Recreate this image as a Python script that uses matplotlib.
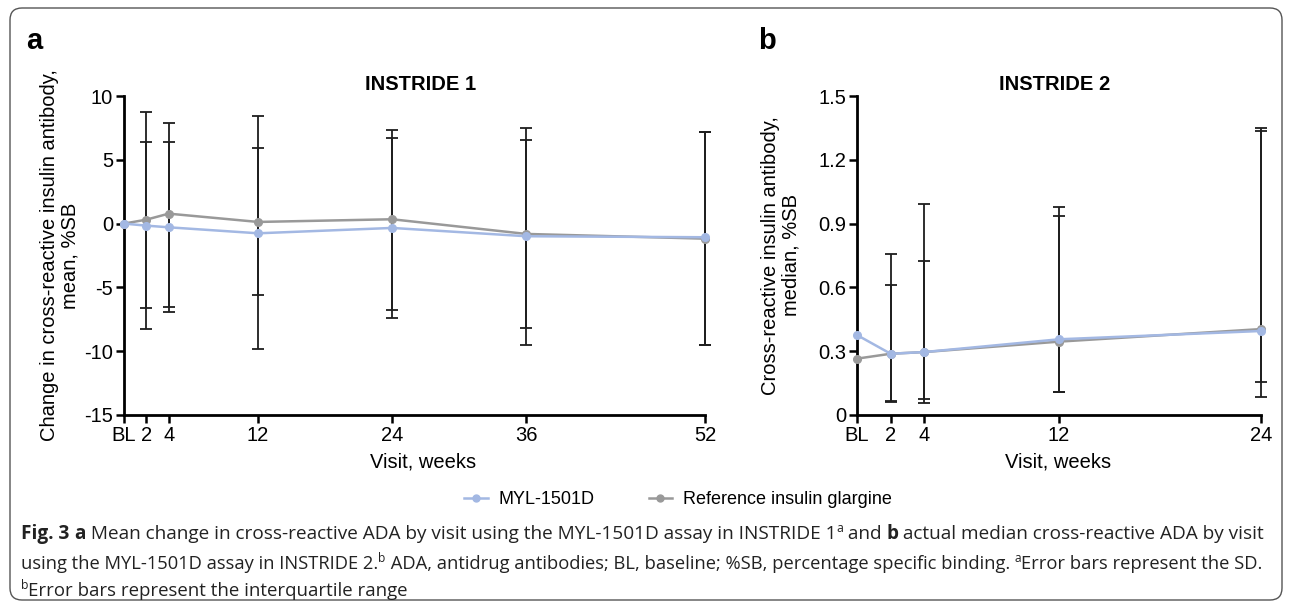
import matplotlib
matplotlib.use("Agg")
import numpy as np
import matplotlib.pyplot as plt
from matplotlib.patches import FancyBboxPatch
from matplotlib.lines import Line2D

# ---- data: INSTRIDE 1 (mean change, SD bars) ----
weeks1 = [0, 2, 4, 12, 24, 36, 52]
myl1 = [0, -0.16, -0.29, -0.76, -0.34, -0.99, -1.07]
myl1_hi = [None, 6.40, 6.42, 8.44, 6.71, 7.52, 7.21]
myl1_lo = [None, -6.63, -6.90, -9.85, -7.42, -9.53, -9.50]
ref1 = [0, 0.31, 0.78, 0.13, 0.34, -0.81, -1.18]
ref1_hi = [None, 8.78, 7.90, 5.90, 7.37, 6.58, 7.21]
ref1_lo = [None, -8.28, -6.53, -5.62, -6.79, -8.20, -9.50]

# ---- data: INSTRIDE 2 (median, IQR bars) ----
weeks2 = [0, 2, 4, 12, 24]
myl2 = [0.376, 0.288, 0.296, 0.356, 0.395]
myl2_hi = [None, 0.758, 0.990, 0.980, 1.348]
myl2_lo = [None, 0.063, 0.075, 0.108, 0.157]
ref2 = [0.265, 0.288, 0.296, 0.345, 0.404]
ref2_hi = [None, 0.611, 0.724, 0.936, 1.337]
ref2_lo = [None, 0.065, 0.058, 0.110, 0.083]

xticks1 = [0, 2, 4, 12, 24, 36, 52]
xticks2 = [0, 2, 4, 12, 24]
yticks1 = [-15, -10, -5, 0, 5, 10]
yticks2 = [0, 0.3, 0.6, 0.9, 1.2, 1.5]
ytick2_labels = ["0", "0.3", "0.6", "0.9", "1.2", "1.5"]

BLUE = "#a3b8e3"
GREY = "#999999"
BAR = "#1e1e1e"
FONT = "Liberation Sans"

plt.rcParams["font.family"] = FONT
plt.rcParams["axes.unicode_minus"] = False

fig = plt.figure(figsize=(12.92, 6.07), dpi=100)
W, H = 1292, 607

TICK_SIZE = 14.5
LABEL_SIZE = 14.5


def px_axes(x0, y0, x1, y1):
    return fig.add_axes([x0 / W, 1 - y1 / H, (x1 - x0) / W, (y1 - y0) / H])


def draw_series(ax, x, y, hi, lo, color):
    xs = [a for a, h in zip(x, hi) if h is not None]
    ms = [m for m, h in zip(y, hi) if h is not None]
    his = [h for h in hi if h is not None]
    los = [l for l in lo if l is not None]
    err = [np.array(ms) - np.array(los), np.array(his) - np.array(ms)]
    ax.errorbar(xs, ms, yerr=err, fmt="none", ecolor=BAR, elinewidth=1.3,
                capsize=4, capthick=1.3, zorder=2, clip_on=False)
    ax.plot(x, y, color=color, lw=1.8, marker="o", ms=5.5, zorder=3,
            clip_on=False)


def style_axes(ax):
    for s in ["top", "right"]:
        ax.spines[s].set_visible(False)
    for s in ["left", "bottom"]:
        ax.spines[s].set_linewidth(2.0)
    ax.tick_params(direction="out", length=6, width=1.8, labelsize=TICK_SIZE,
                   pad=2, color="black")


# panel a
ax1 = px_axes(124, 96, 705, 415)
draw_series(ax1, weeks1, ref1, ref1_hi, ref1_lo, GREY)
draw_series(ax1, weeks1, myl1, myl1_hi, myl1_lo, BLUE)
ax1.set_xlim(0, 52)
ax1.set_ylim(-15, 10)
ax1.set_xticks(xticks1)
ax1.set_xticklabels(["BL"] + [str(t) for t in xticks1[1:]])
ax1.set_yticks(yticks1)
style_axes(ax1)
ax1.set_ylabel("Change in cross-reactive insulin antibody,\nmean, %SB",
               fontsize=LABEL_SIZE, linespacing=1.1)
ax1.yaxis.set_label_coords(-0.077, 0.5)
ax1.set_xlabel("Visit, weeks", fontsize=LABEL_SIZE)
ax1.xaxis.set_label_coords(0.515, -0.117)
ax1.set_title("INSTRIDE 1", fontsize=14.5, fontweight="bold", pad=4, x=0.51)

# panel b
ax2 = px_axes(857, 96, 1261, 415)
draw_series(ax2, weeks2, ref2, ref2_hi, ref2_lo, GREY)
draw_series(ax2, weeks2, myl2, myl2_hi, myl2_lo, BLUE)
ax2.set_xlim(0, 24)
ax2.set_ylim(0, 1.5)
ax2.set_xticks(xticks2)
ax2.set_xticklabels(["BL"] + [str(t) for t in xticks2[1:]])
ax2.set_yticks(yticks2)
ax2.set_yticklabels(ytick2_labels)
style_axes(ax2)
ax2.set_ylabel("Cross-reactive insulin antibody,\nmedian, %SB",
               fontsize=LABEL_SIZE, linespacing=1.1)
ax2.yaxis.set_label_coords(-0.141, 0.5)
ax2.set_xlabel("Visit, weeks", fontsize=LABEL_SIZE)
ax2.xaxis.set_label_coords(0.497, -0.117)
ax2.set_title("INSTRIDE 2", fontsize=14.5, fontweight="bold", pad=4, x=0.49)

fig.text(26 / W, 1 - 49 / H, "a", fontsize=21, fontweight="bold", va="baseline")
fig.text(758 / W, 1 - 49 / H, "b", fontsize=21, fontweight="bold", va="baseline")

# legend
handles = [Line2D([], [], color=BLUE, lw=1.8, marker="o", ms=5),
           Line2D([], [], color=GREY, lw=1.8, marker="o", ms=5)]
fig.legend(handles, ["MYL-1501D", "Reference insulin glargine"],
           loc="center", bbox_to_anchor=(678 / W, 1 - 500 / H), ncol=2,
           frameon=False, fontsize=13, handlelength=1.3, handletextpad=0.6,
           columnspacing=3.0)

# outer rounded frame
frame = FancyBboxPatch((0.10, 0.07), 12.72, 5.92,
                       boxstyle="round,pad=0,rounding_size=0.12",
                       transform=fig.dpi_scale_trans, fill=False,
                       edgecolor="#555555", lw=1.0)
fig.patches.append(frame)

# caption
CAP_FONT = "Open Sans"
CAP_SIZE = 13.4
renderer = fig.canvas.get_renderer()


def caption_line(y_px, runs, right_px=None):
    texts = []
    for text, kind in runs:
        t = fig.text(0, 0, text, fontsize=CAP_SIZE * (0.65 if kind == "sup" else 1),
                     fontweight="bold" if kind == "b" else "normal",
                     family=CAP_FONT, va="baseline", color="#222222")
        texts.append((t, kind))
    scale = 1.0
    if right_px is not None:
        total = sum(t.get_window_extent(renderer).width for t, _ in texts)
        scale = (right_px - 21) / total
    x = 21
    for t, kind in texts:
        t.set_fontsize(t.get_fontsize() * scale)
        dy = 7 if kind == "sup" else 0
        t.set_position((x / W, 1 - (y_px - dy) / H))
        x += t.get_window_extent(renderer).width


caption_line(539, [("Fig. 3", "b"), (" ", "n"), ("a", "b"),
                   (" Mean change in cross-reactive ADA by visit using the MYL-1501D assay in INSTRIDE 1", "n"),
                   ("a", "sup"), (" and ", "n"), ("b", "b"),
                   (" actual median cross-reactive ADA by visit", "n")], 1270)
caption_line(569, [("using the MYL-1501D assay in INSTRIDE 2.", "n"), ("b", "sup"),
                   (" ADA, antidrug antibodies; BL, baseline; %SB, percentage specific binding. ", "n"),
                   ("a", "sup"), ("Error bars represent the SD.", "n")], 1268)
caption_line(596, [("b", "sup"), ("Error bars represent the interquartile range", "n")])

fig.savefig("out.png", dpi=100)
